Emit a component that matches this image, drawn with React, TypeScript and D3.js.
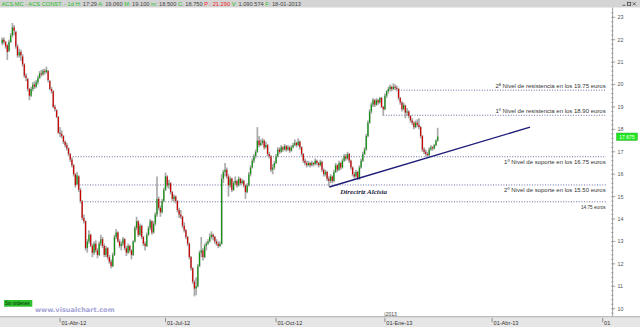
import React from "react";
import * as d3 from "d3";

const W = 640;
const H = 327;

// Daily OHLC, ACS.MC, from 14-Feb-2012
const opens = [
21.85,22.00,21.90,21.75,21.50,21.90,22.20,22.55,22.35,21.70,
21.30,21.45,21.25,20.90,20.40,20.25,19.80,19.50,19.80,20.00,
19.90,20.10,20.30,20.50,20.45,20.60,20.55,20.60,20.15,19.80,
19.70,19.00,18.85,18.55,17.85,17.80,17.70,17.45,17.30,17.15,
16.90,16.65,16.40,16.00,15.55,15.90,15.30,14.80,14.05,13.90,
12.70,13.00,13.30,12.80,12.50,12.90,12.60,12.40,12.90,13.10,
12.80,12.40,12.70,12.30,12.10,11.90,12.40,13.20,13.40,13.00,
12.80,12.90,13.10,12.70,12.50,12.80,12.60,12.40,13.00,13.60,
13.90,13.30,13.70,13.20,12.90,12.80,13.30,13.60,13.90,13.40,
13.80,14.20,14.90,14.50,14.30,14.80,15.30,15.90,15.50,15.60,
15.20,14.90,15.00,14.80,14.40,14.20,14.10,13.70,13.50,13.20,
12.90,12.30,11.80,11.20,10.90,11.00,11.90,12.50,12.60,12.30,
12.80,12.90,13.00,13.20,13.30,13.20,13.00,12.90,12.80,12.90,
15.80,16.10,16.20,15.90,15.50,15.80,15.30,15.60,15.70,15.50,
15.80,15.60,15.70,15.50,15.20,15.50,16.00,16.30,16.60,16.80,
17.00,17.50,17.30,17.40,17.50,17.20,17.30,16.90,16.80,16.20,
16.30,16.50,16.80,17.10,17.00,17.20,17.10,17.25,17.10,17.20,
17.05,17.20,17.30,17.40,17.30,17.45,17.20,16.90,16.60,16.50,
16.40,16.50,16.40,16.50,16.45,16.60,16.50,16.40,16.55,16.20,
16.00,16.10,15.80,15.70,15.90,15.70,16.10,16.40,16.20,16.50,
16.30,16.60,16.80,16.70,16.90,16.60,16.30,16.00,15.90,16.10,
15.80,16.30,16.60,16.90,17.10,17.70,18.30,18.80,19.10,19.30,
19.10,19.30,19.20,19.40,19.00,18.90,19.50,19.70,19.80,19.90,
19.80,19.90,19.85,19.80,19.40,19.20,18.90,19.06,18.75,18.80,
18.60,18.40,18.30,18.10,18.30,18.20,18.10,17.70,17.10,17.00,
16.90,16.85,17.10,17.20,17.15,17.30,17.50
];
const highs = [
22.10,22.10,21.95,21.80,22.00,22.30,22.75,22.65,22.40,21.80,
21.60,21.55,21.35,20.95,20.50,20.30,19.85,19.90,20.10,20.15,
20.20,20.40,20.60,20.65,20.70,20.70,20.80,20.65,20.20,19.90,
19.75,19.10,18.90,18.60,18.10,17.95,17.75,17.50,17.40,17.20,
16.95,16.75,16.45,16.05,16.10,15.95,15.40,14.85,14.20,13.95,
13.10,13.50,13.35,12.90,13.00,13.05,12.70,13.00,13.30,13.20,
12.90,12.80,12.75,12.40,12.20,12.50,13.30,13.55,13.45,13.10,
13.00,13.20,13.15,12.80,12.90,12.85,12.65,13.05,13.70,14.10,
13.95,13.80,13.75,13.25,13.00,13.40,13.70,14.00,13.95,13.90,
14.30,15.90,15.00,14.60,14.90,15.40,16.07,15.95,15.75,15.65,
15.25,15.10,15.05,14.85,14.50,14.40,14.15,13.85,13.55,13.25,
12.95,12.35,11.85,11.30,11.40,12.00,12.60,13.20,12.70,12.90,
13.00,13.10,13.35,13.45,13.35,13.25,13.10,13.00,13.00,16.00,
16.20,16.50,16.30,16.00,15.90,15.85,15.70,15.90,15.75,15.90,
15.85,15.80,15.75,15.55,15.60,16.10,16.40,16.70,16.90,17.10,
18.10,17.70,17.55,17.60,17.55,17.45,17.35,17.00,16.85,16.45,
16.60,16.90,17.20,17.20,17.30,17.25,17.35,17.30,17.30,17.25,
17.30,17.40,17.55,17.45,17.60,17.50,17.25,16.95,16.70,16.60,
16.60,16.55,16.60,16.55,16.70,16.65,16.55,16.65,16.60,16.25,
16.20,16.15,15.90,16.00,15.95,16.20,16.50,16.45,16.60,16.55,
16.70,16.90,16.90,17.00,16.95,16.65,16.35,16.10,16.20,16.15,
16.40,16.70,17.00,17.20,17.80,18.40,18.90,19.20,19.40,19.35,
19.40,19.35,19.45,19.45,19.05,19.60,19.75,19.90,20.00,19.95,
20.06,20.00,19.95,19.85,19.45,19.25,19.20,19.10,18.95,18.85,
18.65,18.50,18.35,18.40,18.45,18.50,18.15,17.75,17.20,17.10,
17.00,17.20,17.30,17.25,17.35,17.55,18.07
];
const lows = [
21.75,21.80,21.60,21.10,21.45,21.85,22.10,22.20,21.60,21.20,
21.20,21.05,20.80,20.30,20.15,19.70,19.30,19.45,19.70,19.80,
19.85,20.00,20.25,20.35,20.40,20.45,20.50,20.10,19.75,19.60,
18.95,18.80,18.50,17.80,17.65,17.60,17.35,17.20,17.05,16.80,
16.55,16.30,15.90,15.40,15.50,15.20,14.70,13.95,13.80,12.60,
12.50,12.90,12.75,12.30,12.40,12.50,12.25,12.35,12.80,12.70,
12.30,12.30,12.20,12.00,11.80,11.85,12.35,13.10,12.95,12.70,
12.60,12.80,12.60,12.35,12.45,12.50,12.20,12.35,12.95,13.50,
13.20,13.25,13.10,12.80,12.60,12.75,13.25,13.50,13.30,13.35,
13.70,14.10,14.40,14.10,14.25,14.75,15.25,15.40,15.35,15.10,
14.80,14.75,14.70,14.30,14.05,14.00,13.60,13.40,13.10,12.80,
12.20,11.70,11.10,10.55,10.60,10.95,11.85,12.30,12.15,12.25,
12.60,12.85,12.95,13.10,13.05,12.90,12.80,12.70,12.75,12.85,
15.60,15.90,15.80,15.00,15.40,15.20,15.25,15.50,15.40,15.45,
15.50,15.55,15.40,14.90,15.15,15.45,15.90,16.25,16.50,16.70,
16.95,17.20,17.25,17.30,17.10,17.15,16.80,16.70,16.10,16.00,
16.20,16.45,16.75,16.90,16.95,17.00,17.05,17.00,17.05,16.95,
17.00,17.15,17.25,17.20,17.25,17.10,16.80,16.50,16.40,16.30,
16.35,16.30,16.35,16.35,16.40,16.40,16.30,16.35,16.10,15.90,
15.90,15.70,15.45,15.60,15.60,15.65,16.05,16.10,16.15,16.20,
16.25,16.55,16.60,16.65,16.50,16.20,15.90,15.80,15.85,15.75,
15.75,16.25,16.55,16.85,17.05,17.65,18.25,18.70,19.00,19.00,
19.05,19.10,19.15,18.95,18.60,18.85,19.40,19.60,19.70,19.70,
19.75,19.75,19.70,19.30,19.10,18.80,18.85,18.50,18.60,18.50,
18.30,18.20,18.00,18.05,18.10,18.00,17.60,17.00,16.90,16.80,
16.72,16.80,17.05,17.05,17.10,17.25,17.45
];
const closes = [
22.00,21.90,21.70,21.45,21.90,22.20,22.55,22.40,21.70,21.30,
21.45,21.30,20.90,20.40,20.30,19.80,19.50,19.80,20.00,19.90,
20.10,20.30,20.50,20.45,20.60,20.55,20.65,20.20,19.80,19.70,
19.00,18.90,18.55,17.85,17.80,17.70,17.45,17.30,17.15,16.90,
16.65,16.40,16.00,15.50,15.95,15.30,14.80,14.05,13.90,12.70,
13.00,13.30,12.80,12.50,12.90,12.60,12.40,12.90,13.10,12.80,
12.40,12.70,12.30,12.10,11.90,12.40,13.20,13.40,13.00,12.80,
12.90,13.10,12.70,12.50,12.80,12.60,12.40,13.00,13.60,13.90,
13.30,13.70,13.20,12.90,12.80,13.30,13.60,13.90,13.40,13.80,
14.20,14.90,14.50,14.30,14.80,15.30,15.90,15.50,15.60,15.20,
14.90,15.00,14.80,14.40,14.20,14.10,13.70,13.50,13.20,12.90,
12.30,11.80,11.20,10.90,11.00,11.90,12.50,12.60,12.30,12.80,
12.90,13.00,13.20,13.30,13.20,13.00,12.90,12.80,12.90,15.80,
16.10,16.20,15.90,15.50,15.80,15.30,15.60,15.70,15.50,15.80,
15.60,15.70,15.50,15.20,15.50,16.00,16.30,16.60,16.80,17.00,
17.50,17.30,17.40,17.50,17.20,17.30,16.90,16.80,16.20,16.30,
16.50,16.80,17.10,17.00,17.20,17.10,17.25,17.10,17.20,17.05,
17.20,17.30,17.40,17.30,17.45,17.20,16.90,16.60,16.50,16.40,
16.50,16.40,16.50,16.45,16.60,16.50,16.40,16.55,16.20,16.00,
16.10,15.80,15.70,15.90,15.70,16.10,16.40,16.20,16.50,16.30,
16.60,16.80,16.70,16.90,16.60,16.30,16.00,15.90,16.10,15.80,
16.30,16.60,16.90,17.10,17.70,18.30,18.80,19.10,19.30,19.10,
19.30,19.20,19.40,19.00,18.90,19.50,19.70,19.80,19.90,19.80,
19.90,19.85,19.80,19.40,19.20,18.90,19.10,18.75,18.80,18.60,
18.40,18.30,18.10,18.30,18.20,18.10,17.70,17.10,17.00,16.90,
16.85,17.10,17.20,17.15,17.30,17.50,17.675
];

const START_DATE = "2012-02-14";
const HOLIDAYS = ["2012-04-06", "2012-04-09", "2012-05-01", "2012-12-25", "2012-12-26", "2013-01-01"];
const TICK_DATES = ["2012-04-01", "2012-07-01", "2012-10-01", "2013-01-01", "2013-04-01", "2013-07-01"];
const TICK_LABELS = ["01-Abr-12", "01-Jul-12", "01-Oct-12", "01-Ene-13", "01-Abr-13", "01"];
const YEAR_MARK_DATE = "2013-01-01";
const YEAR_MARK_LABEL = "2013";
const PRICE_TICKS = [10, 11, 12, 13, 14, 15, 16, 17, 18, 19, 20, 21, 22, 23];
const LAST_PRICE = 17.675;

// Horizontal levels (drawn price, start bar, label)
const levelPrices = [19.75, 18.63, 16.78, 15.52, 14.77];
const levelStartBars = [233, 224, 41.5, 45.5, 47];
const levelLabels = [
  "2ª Nivel de resistencia en los 19.75 euros",
  "1º Nivel de resistencia en los 18.90 euros",
  "1º Nivel de soporte en los 16.75 euros",
  "2º Nivel de soporte en los 15.50 euros",
  "14.75 euros",
];
const levelLabelAbove = [true, true, false, false, false];

// Trend line: bar index and price at each end
const trendBars = [192.3, 310.3];
const trendPrices = [15.43, 18.1];
const TREND_LABEL = "Directriz Alcista";

const headerParts: [string, string][] = [
  ["ACS.MC - ACS CONST. - 1d ", "#22bb22"],
  ["H: ", "#22bb22"], ["17:29 ", "#444"],
  ["A: ", "#22bb22"], ["19.060 ", "#444"],
  ["M: ", "#22bb22"], ["19.100 ", "#444"],
  ["m: ", "#22bb22"], ["18.500 ", "#444"],
  ["C: ", "#22bb22"], ["18.750 ", "#444"],
  ["P : 21.290 ", "#ee2222"],
  ["V: ", "#22bb22"], ["1.090.574 ", "#444"],
  ["F: ", "#22bb22"], ["18-01-2013", "#444"],
];

function tradingDays(n: number): Date[] {
  const out: Date[] = [];
  const d = new Date(START_DATE + "T12:00:00");
  const hol = new Set(HOLIDAYS);
  while (out.length < n) {
    const wd = d.getDay();
    const key = d3.timeFormat("%Y-%m-%d")(d);
    if (wd !== 0 && wd !== 6 && !hol.has(key)) out.push(new Date(d));
    d.setDate(d.getDate() + 1);
  }
  return out;
}

export default function App() {
  const days = tradingDays(380);
  const idxOf = (s: string) => {
    const t = new Date(s + "T00:00:00").getTime();
    return days.findIndex((d) => d.getTime() >= t);
  };

  const plotRight = 612.6;
  const plotTop = 7.5;
  const plotBottom = 316.7;

  const x = d3.scaleLinear().domain([0, 353]).range([2.2, 602.7]);
  const y = d3.scaleLinear().domain([10, 23]).range([308.7, 17.3]);

  const minorTicks = d3.range(9.8, 23.61, 0.2).filter((v) => y(v) > plotTop + 1 && y(v) < plotBottom - 1);

  const levelRight = 606;

  const sans = "'Liberation Sans', Arial, sans-serif";

  return (
    <div style={{ position: "absolute", left: 0, top: 0 }}>
      <svg width={W} height={H} viewBox={`0 0 ${W} ${H}`} style={{ display: "block" }}>
        <rect x={0} y={0} width={W} height={H} fill="#ffffff" />
        {/* header */}
        <rect x={0} y={0} width={W} height={plotTop} fill="#d4d4d4" />
        <text x={1.5} y={5.8} fontFamily={sans} fontSize={5.7}>
          {headerParts.map(([t, c], i) => (
            <tspan key={i} fill={c}>{t}</tspan>
          ))}
        </text>
        {/* window buttons */}
        <g stroke="#333" strokeWidth={0.7} fill="none">
          <line x1={622.5} y1={5.3} x2={625.5} y2={5.3} />
          <rect x={627.5} y={2.3} width={3.2} height={3} />
          <line x1={632.8} y1={2.3} x2={635.8} y2={5.3} />
          <line x1={635.8} y1={2.3} x2={632.8} y2={5.3} />
        </g>

        {/* levels */}
        {levelPrices.map((p, i) => (
          <line key={"lv" + i} x1={x(levelStartBars[i])} x2={levelRight} y1={y(p)} y2={y(p)}
            stroke="#5a5aa0" strokeWidth={0.9} strokeDasharray="1 1.6" />
        ))}
        {levelLabels.map((t, i) => (
          <text key={"ll" + i} x={605.7} y={levelLabelAbove[i] ? y(levelPrices[i]) - 2.6 : y(levelPrices[i]) + 7.2}
            textAnchor="end" fontFamily={sans} fontSize={i === 4 ? 4.7 : 6.0} fill="#333">{t}</text>
        ))}

        {/* candles */}
        {closes.map((c, i) => {
          const o = opens[i];
          const cx = x(i);
          const up = c >= o;
          const top = y(Math.max(o, c));
          const bh = Math.max(0.9, Math.abs(y(o) - y(c)));
          return (
            <g key={"c" + i}>
              <rect x={cx - 0.85} y={y(highs[i])} width={1.7} height={Math.max(0.8, y(lows[i]) - y(highs[i]))} fill="#ababab" />
              <rect x={cx - 0.6} y={top} width={1.2} height={bh} fill={up ? "#0e920e" : "#cc0000"} />
            </g>
          );
        })}

        {/* trend line */}
        <line x1={x(trendBars[0])} y1={y(trendPrices[0])} x2={x(trendBars[1])} y2={y(trendPrices[1])}
          stroke="#1c1c78" strokeWidth={1.4} />
        <text x={x(trendBars[0]) + 11} y={y(trendPrices[0]) + 7} fontFamily="'Liberation Serif', 'Times New Roman', serif"
          fontStyle="italic" fontWeight="bold" fontSize={7} fill="#202040">{TREND_LABEL}</text>

        {/* right axis */}
        <line x1={plotRight} x2={plotRight} y1={plotTop} y2={plotBottom} stroke="#888" strokeWidth={0.8} />
        {minorTicks.map((v, i) => (
          <line key={"mt" + i} x1={plotRight - 1.6} x2={plotRight + 0.8} y1={y(v)} y2={y(v)} stroke="#888" strokeWidth={0.6} />
        ))}
        {PRICE_TICKS.map((v) => (
          <g key={"pt" + v}>
            <line x1={plotRight} x2={plotRight + 2.6} y1={y(v)} y2={y(v)} stroke="#777" strokeWidth={0.6} />
            <text x={617.4} y={y(v) + 1.9} fontFamily={sans} fontSize={5.4} fill="#555">{v}</text>
          </g>
        ))}
        {/* last price box */}
        <rect x={616.7} y={y(LAST_PRICE) - 3.6} width={20.6} height={7.2} fill="#22e822" stroke="#11a011" strokeWidth={0.5} />
        <text x={627} y={y(LAST_PRICE) + 1.9} textAnchor="middle" fontFamily={sans} fontSize={5} fill="#ffffff">
          {LAST_PRICE.toFixed(3)}
        </text>

        {/* bottom axis */}
        <rect x={0} y={plotBottom} width={W} height={H - plotBottom} fill="#e6e6e6" />
        <line x1={0} x2={W} y1={plotBottom} y2={plotBottom} stroke="#9a9a9a" strokeWidth={0.8} />
        {TICK_DATES.map((d, i) => {
          const tx = x(idxOf(d));
          return (
            <g key={"xt" + i}>
              <line x1={tx} x2={tx} y1={plotBottom + 1.2} y2={plotBottom + 5.5} stroke="#555" strokeWidth={0.6} />
              <text x={tx + 1.4} y={324.6} fontFamily={sans} fontSize={5.6} fill="#333">{TICK_LABELS[i]}</text>
            </g>
          );
        })}
        <line x1={x(idxOf(YEAR_MARK_DATE))} x2={x(idxOf(YEAR_MARK_DATE))} y1={312.5} y2={plotBottom} stroke="#666" strokeWidth={0.6} />
        <text x={x(idxOf(YEAR_MARK_DATE)) + 0.8} y={315.6} fontFamily={sans} fontSize={5} fill="#444">{YEAR_MARK_LABEL}</text>

        {/* Sin órdenes */}
        <rect x={4} y={300} width={28.3} height={6.7} fill="#2fbf2f" />
        <text x={5} y={305.3} fontFamily={sans} fontSize={4.6} fill="#0a2a0a">Sin órdenes</text>
        {/* watermark */}
        <text x={35} y={312.2} fontFamily="'DejaVu Sans', Verdana, sans-serif" fontWeight="bold" fontSize={6.6} fill="#a4a4d6">
          www.visualchart.com
        </text>
      </svg>
    </div>
  );
}
